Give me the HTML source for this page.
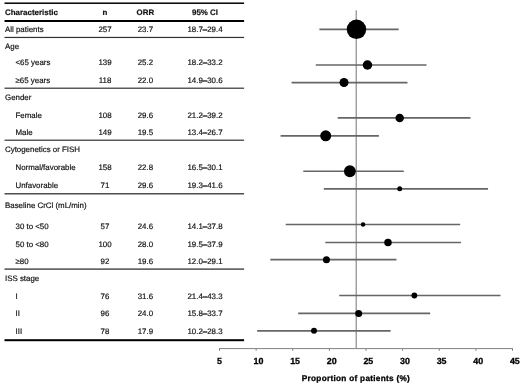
<!DOCTYPE html>
<html><head><meta charset="utf-8"><title>Forest plot</title>
<style>
html,body{margin:0;padding:0;background:#fff;}
body{text-rendering:geometricPrecision;width:520px;height:384px;position:relative;overflow:hidden;font-family:"Liberation Sans",sans-serif;color:#111;}
.t{-webkit-text-stroke:0.18px #111;position:absolute;white-space:nowrap;font-size:7.9px;line-height:10px;height:10px;}
.c{text-align:center;}
.d{-webkit-text-stroke:0.45px #111;}
.b{font-weight:bold;font-size:7.95px;}
.r{position:absolute;left:4.5px;width:239.4px;background:#111;}
.ax{position:absolute;white-space:nowrap;font-weight:bold;font-size:8.9px;line-height:10px;height:10px;color:#000;-webkit-text-stroke:0.3px #000;}
svg{position:absolute;left:0;top:0;}
#w{position:absolute;left:0;top:0;width:520px;height:384px;will-change:transform;}
</style></head><body><div id="w">

<div class="t b" style="left:5px;top:8px;">Characteristic</div>
<div class="t b c" style="left:85px;top:8px;width:40px;">n</div>
<div class="t b c" style="left:125.4px;top:8px;width:40px;">ORR</div>
<div class="t b c" style="left:175px;top:8px;width:60px;">95% CI</div>
<div class="t " style="left:5px;top:25px;">All patients</div>
<div class="t c" style="left:85px;top:25px;width:40px;">257</div>
<div class="t c" style="left:125.4px;top:25px;width:40px;">23.7</div>
<div class="t c" style="left:175px;top:25px;width:60px;">18.7<span class="d">–</span>29.4</div>
<div class="t " style="left:5px;top:42px;">Age</div>
<div class="t " style="left:15.5px;top:58px;">&lt;65 years</div>
<div class="t c" style="left:85px;top:58px;width:40px;">139</div>
<div class="t c" style="left:125.4px;top:58px;width:40px;">25.2</div>
<div class="t c" style="left:175px;top:58px;width:60px;">18.2<span class="d">–</span>33.2</div>
<div class="t " style="left:15.5px;top:76px;">≥65 years</div>
<div class="t c" style="left:85px;top:76px;width:40px;">118</div>
<div class="t c" style="left:125.4px;top:76px;width:40px;">22.0</div>
<div class="t c" style="left:175px;top:76px;width:60px;">14.9<span class="d">–</span>30.6</div>
<div class="t " style="left:5px;top:93px;">Gender</div>
<div class="t " style="left:15.5px;top:111px;">Female</div>
<div class="t c" style="left:85px;top:111px;width:40px;">108</div>
<div class="t c" style="left:125.4px;top:111px;width:40px;">29.6</div>
<div class="t c" style="left:175px;top:111px;width:60px;">21.2<span class="d">–</span>39.2</div>
<div class="t " style="left:15.5px;top:128px;">Male</div>
<div class="t c" style="left:85px;top:128px;width:40px;">149</div>
<div class="t c" style="left:125.4px;top:128px;width:40px;">19.5</div>
<div class="t c" style="left:175px;top:128px;width:60px;">13.4<span class="d">–</span>26.7</div>
<div class="t " style="left:5px;top:145px;">Cytogenetics or FISH</div>
<div class="t " style="left:15.5px;top:163px;">Normal/favorable</div>
<div class="t c" style="left:85px;top:163px;width:40px;">158</div>
<div class="t c" style="left:125.4px;top:163px;width:40px;">22.8</div>
<div class="t c" style="left:175px;top:163px;width:60px;">16.5<span class="d">–</span>30.1</div>
<div class="t " style="left:15.5px;top:181px;">Unfavorable</div>
<div class="t c" style="left:85px;top:181px;width:40px;">71</div>
<div class="t c" style="left:125.4px;top:181px;width:40px;">29.6</div>
<div class="t c" style="left:175px;top:181px;width:60px;">19.3<span class="d">–</span>41.6</div>
<div class="t " style="left:5px;top:201px;">Baseline CrCl (mL/min)</div>
<div class="t " style="left:15.5px;top:222px;">30 to &lt;50</div>
<div class="t c" style="left:85px;top:222px;width:40px;">57</div>
<div class="t c" style="left:125.4px;top:222px;width:40px;">24.6</div>
<div class="t c" style="left:175px;top:222px;width:60px;">14.1<span class="d">–</span>37.8</div>
<div class="t " style="left:15.5px;top:240px;">50 to &lt;80</div>
<div class="t c" style="left:85px;top:240px;width:40px;">100</div>
<div class="t c" style="left:125.4px;top:240px;width:40px;">28.0</div>
<div class="t c" style="left:175px;top:240px;width:60px;">19.5<span class="d">–</span>37.9</div>
<div class="t " style="left:15.5px;top:257px;">≥80</div>
<div class="t c" style="left:85px;top:257px;width:40px;">92</div>
<div class="t c" style="left:125.4px;top:257px;width:40px;">19.6</div>
<div class="t c" style="left:175px;top:257px;width:60px;">12.0<span class="d">–</span>29.1</div>
<div class="t " style="left:5px;top:274px;">ISS stage</div>
<div class="t " style="left:15.5px;top:292px;">I</div>
<div class="t c" style="left:85px;top:292px;width:40px;">76</div>
<div class="t c" style="left:125.4px;top:292px;width:40px;">31.6</div>
<div class="t c" style="left:175px;top:292px;width:60px;">21.4<span class="d">–</span>43.3</div>
<div class="t " style="left:15.5px;top:309px;">II</div>
<div class="t c" style="left:85px;top:309px;width:40px;">96</div>
<div class="t c" style="left:125.4px;top:309px;width:40px;">24.0</div>
<div class="t c" style="left:175px;top:309px;width:60px;">15.8<span class="d">–</span>33.7</div>
<div class="t " style="left:15.5px;top:327px;">III</div>
<div class="t c" style="left:85px;top:327px;width:40px;">78</div>
<div class="t c" style="left:125.4px;top:327px;width:40px;">17.9</div>
<div class="t c" style="left:175px;top:327px;width:60px;">10.2<span class="d">–</span>28.3</div>
<svg width="520" height="384" viewBox="0 0 520 384">
<rect x="4.5" y="2.45" width="239.6" height="1.5" fill="#000"/>
<rect x="4.5" y="20.00" width="239.6" height="2.0" fill="#000"/>
<rect x="4.5" y="36.85" width="239.6" height="1.2" fill="#333"/>
<rect x="4.5" y="87.60" width="239.6" height="1.2" fill="#333"/>
<rect x="4.5" y="139.60" width="239.6" height="1.2" fill="#333"/>
<rect x="4.5" y="193.15" width="239.6" height="1.3" fill="#333"/>
<rect x="4.5" y="268.45" width="239.6" height="1.3" fill="#333"/>
<rect x="4.5" y="339.20" width="239.6" height="2.0" fill="#000"/>
<line x1="356.2" y1="10.2" x2="356.2" y2="348.5" stroke="#808080" stroke-width="1.1"/>
<line x1="219" y1="348.6" x2="513" y2="348.6" stroke="#808080" stroke-width="1"/>
<line x1="219.50" y1="348.6" x2="219.50" y2="350.8" stroke="#808080" stroke-width="1"/>
<line x1="256.12" y1="348.6" x2="256.12" y2="350.8" stroke="#808080" stroke-width="1"/>
<line x1="292.75" y1="348.6" x2="292.75" y2="350.8" stroke="#808080" stroke-width="1"/>
<line x1="329.38" y1="348.6" x2="329.38" y2="350.8" stroke="#808080" stroke-width="1"/>
<line x1="366.00" y1="348.6" x2="366.00" y2="350.8" stroke="#808080" stroke-width="1"/>
<line x1="402.62" y1="348.6" x2="402.62" y2="350.8" stroke="#808080" stroke-width="1"/>
<line x1="439.25" y1="348.6" x2="439.25" y2="350.8" stroke="#808080" stroke-width="1"/>
<line x1="475.88" y1="348.6" x2="475.88" y2="350.8" stroke="#808080" stroke-width="1"/>
<line x1="512.50" y1="348.6" x2="512.50" y2="350.8" stroke="#808080" stroke-width="1"/>
<line x1="319.40" y1="29.35" x2="398.68" y2="29.35" stroke="#666666" stroke-width="1.7"/>
<circle cx="356.48" cy="29.35" r="9.75" fill="#000"/>
<line x1="315.74" y1="65.00" x2="426.52" y2="65.00" stroke="#666666" stroke-width="1.7"/>
<circle cx="367.47" cy="65.00" r="4.75" fill="#000"/>
<line x1="291.57" y1="82.55" x2="407.47" y2="82.55" stroke="#666666" stroke-width="1.7"/>
<circle cx="344.02" cy="82.55" r="4.5" fill="#000"/>
<line x1="337.71" y1="117.95" x2="470.47" y2="117.95" stroke="#666666" stroke-width="1.7"/>
<circle cx="399.70" cy="117.95" r="4.25" fill="#000"/>
<line x1="280.58" y1="135.80" x2="378.90" y2="135.80" stroke="#666666" stroke-width="1.7"/>
<circle cx="325.71" cy="135.80" r="5.5" fill="#000"/>
<line x1="303.29" y1="171.25" x2="403.81" y2="171.25" stroke="#666666" stroke-width="1.7"/>
<circle cx="349.88" cy="171.25" r="5.9" fill="#000"/>
<line x1="323.80" y1="188.85" x2="488.05" y2="188.85" stroke="#666666" stroke-width="1.7"/>
<circle cx="399.70" cy="188.85" r="2.5" fill="#000"/>
<line x1="285.71" y1="224.50" x2="460.21" y2="224.50" stroke="#666666" stroke-width="1.7"/>
<circle cx="363.07" cy="224.50" r="2.25" fill="#000"/>
<line x1="325.26" y1="242.50" x2="460.94" y2="242.50" stroke="#666666" stroke-width="1.7"/>
<circle cx="387.98" cy="242.50" r="3.75" fill="#000"/>
<line x1="270.32" y1="259.70" x2="396.48" y2="259.70" stroke="#666666" stroke-width="1.7"/>
<circle cx="326.45" cy="259.70" r="3.5" fill="#000"/>
<line x1="339.18" y1="295.50" x2="500.50" y2="295.50" stroke="#666666" stroke-width="1.7"/>
<circle cx="414.35" cy="295.50" r="2.9" fill="#000"/>
<line x1="298.16" y1="313.40" x2="430.18" y2="313.40" stroke="#666666" stroke-width="1.7"/>
<circle cx="358.68" cy="313.40" r="3.5" fill="#000"/>
<line x1="257.14" y1="330.85" x2="390.62" y2="330.85" stroke="#666666" stroke-width="1.7"/>
<circle cx="313.99" cy="330.85" r="3.0" fill="#000"/>
</svg>
<div class="ax" style="left:216.90px;top:356px">5</div>
<div class="ax" style="left:253.53px;top:356px">10</div>
<div class="ax" style="left:290.15px;top:356px">15</div>
<div class="ax" style="left:326.77px;top:356px">20</div>
<div class="ax" style="left:363.40px;top:356px">25</div>
<div class="ax" style="left:400.02px;top:356px">30</div>
<div class="ax" style="left:436.65px;top:356px">35</div>
<div class="ax" style="left:473.27px;top:356px">40</div>
<div class="ax" style="left:509.90px;top:356px">45</div>
<div class="ax" style="left:301.8px;top:374px;font-size:8.2px;letter-spacing:0.3px;-webkit-text-stroke:0.3px #000">Proportion of patients (%)</div>
</div></body></html>
